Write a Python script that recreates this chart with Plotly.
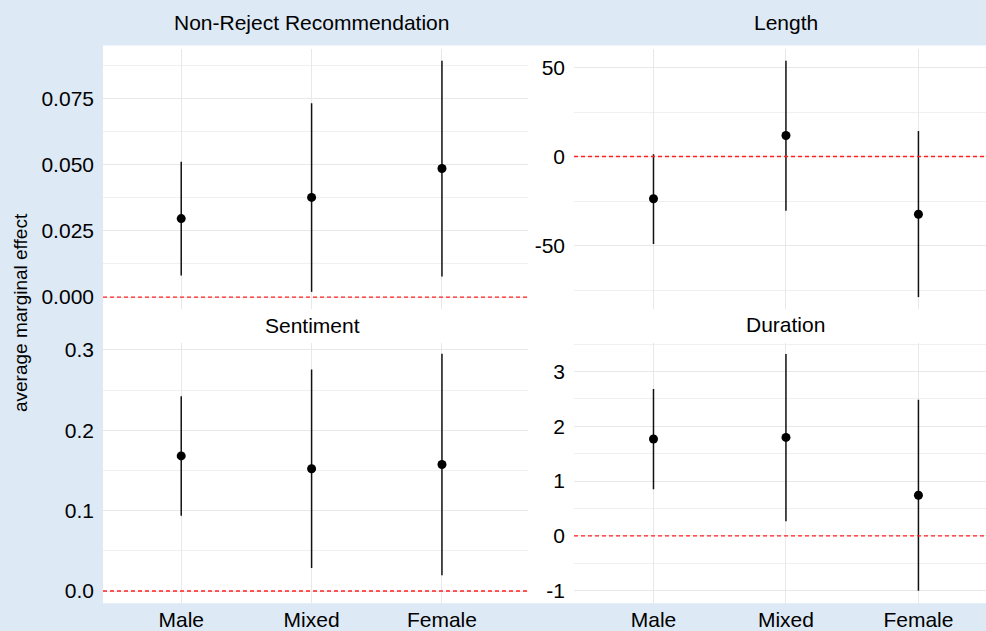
import plotly.graph_objects as go

# ---- data ----
categories = ["Male", "Mixed", "Female"]

nonreject_est = [0.0296, 0.0376, 0.0485]
nonreject_lo = [0.0082, 0.0020, 0.0078]
nonreject_hi = [0.0510, 0.0731, 0.0891]

length_est = [-23.7, 11.8, -32.4]
length_lo = [-49.1, -30.4, -78.9]
length_hi = [1.3, 53.7, 14.4]

sentiment_est = [0.1682, 0.1522, 0.1575]
sentiment_lo = [0.0937, 0.0288, 0.0197]
sentiment_hi = [0.2425, 0.2758, 0.2952]

duration_est = [1.767, 1.796, 0.741]
duration_lo = [0.850, 0.265, -1.000]
duration_hi = [2.682, 3.320, 2.483]

nonreject_ticks = [0.0, 0.025, 0.05, 0.075]
nonreject_ticktext = ["0.000", "0.025", "0.050", "0.075"]
length_ticks = [-50, 0, 50]
length_ticktext = ["-50", "0", "50"]
sentiment_ticks = [0.0, 0.1, 0.2, 0.3]
sentiment_ticktext = ["0.0", "0.1", "0.2", "0.3"]
duration_ticks = [-1, 0, 1, 2, 3]
duration_ticktext = ["-1", "0", "1", "2", "3"]

titles = ["Non-Reject Recommendation", "Length", "Sentiment", "Duration"]

# ---- layout geometry (pixels) ----
W, H = 986, 631
BLUE = "#dde9f5"
FONT = "Liberation Sans, Arial, Helvetica, sans-serif"

def px_x(p):
    return p / W

def px_y(p):
    return 1 - p / H

panels = [
    (nonreject_est, nonreject_lo, nonreject_hi, "x", "y", (103, 528), (45, 308), [0.4, 3.66], [-0.0045, 0.0937], nonreject_ticks, nonreject_ticktext, 0.0125),
    (length_est, length_lo, length_hi, "x2", "y2", (574, 986), (45, 308), [0.4, 3.51], [-85.6, 60.6], length_ticks, length_ticktext, 25),
    (sentiment_est, sentiment_lo, sentiment_hi, "x3", "y3", (103, 528), (342, 605), [0.4, 3.66], [-0.0152, 0.309], sentiment_ticks, sentiment_ticktext, 0.05),
    (duration_est, duration_lo, duration_hi, "x4", "y4", (574, 986), (342, 605), [0.4, 3.51], [-1.23, 3.524], duration_ticks, duration_ticktext, 0.5),
]

fig = go.Figure()
xpos = [1, 2, 3]

layout = dict(
    width=W, height=H,
    margin=dict(l=0, r=0, t=0, b=0),
    paper_bgcolor=BLUE,
    plot_bgcolor="rgba(0,0,0,0)",
    showlegend=False,
    font=dict(family=FONT, color="#000000"),
)

for i, (est, lo, hi, xa, ya, xd, yd, xr, yr, tv, tt, minor) in enumerate(panels):
    fig.add_trace(go.Scatter(
        x=xpos, y=est, mode="markers", xaxis=xa, yaxis=ya,
        marker=dict(color="black", size=9),
        error_y=dict(type="data", symmetric=False,
                     array=[h - e for h, e in zip(hi, est)],
                     arrayminus=[e - l for e, l in zip(est, lo)],
                     width=0, thickness=1.5, color="#111111"),
        hoverinfo="skip",
    ))
    fig.add_trace(go.Scatter(
        x=[xr[0], xr[1]], y=[0, 0], mode="lines", xaxis=xa, yaxis=ya,
        line=dict(color="#ff2020", width=1.4, dash="4px,3px"),
        hoverinfo="skip",
    ))
    xkey = "xaxis" + ("" if i == 0 else str(i + 1))
    ykey = "yaxis" + ("" if i == 0 else str(i + 1))
    bottom = i >= 2
    layout[xkey] = dict(
        domain=[px_x(xd[0]), px_x(xd[1])], range=xr, anchor=ya,
        tickvals=xpos, ticktext=categories,
        showticklabels=bottom, showgrid=True, gridcolor="#e8e8e8", gridwidth=1.2,
        zeroline=False, showline=False, ticks="", ticklabelstandoff=2,
        tickfont=dict(size=21, family=FONT, color="#000"),
    )
    layout[ykey] = dict(
        domain=[px_y(yd[1]), px_y(yd[0])], range=yr, anchor=xa,
        tickvals=tv, ticktext=tt, showgrid=True, gridcolor="#e8e8e8", gridwidth=1.2,
        zeroline=False, showline=False, ticks="", ticklabelstandoff=8,
        tickfont=dict(size=21, family=FONT, color="#000"),
        minor=dict(dtick=minor, tick0=0, showgrid=True, gridcolor="#f0f0f0", gridwidth=0.8),
    )

shapes = [dict(type="rect", xref="paper", yref="paper", layer="below",
               x0=px_x(103), x1=1, y0=px_y(605), y1=px_y(42),
               fillcolor="white", line=dict(width=0))]

annotations = []
title_pos = [(311, 19), (786, 19), (312, 325), (785, 324)]
for t, (cx, cy) in zip(titles, title_pos):
    annotations.append(dict(text=t, xref="paper", yref="paper",
                            x=px_x(cx), y=px_y(cy), xanchor="center", yanchor="middle",
                            showarrow=False, font=dict(size=21, family=FONT, color="#000")))
annotations.append(dict(text="average marginal effect", xref="paper", yref="paper",
                        x=px_x(20), y=px_y(312), xanchor="center", yanchor="middle",
                        textangle=-90, showarrow=False,
                        font=dict(size=19, family=FONT, color="#000")))

layout["shapes"] = shapes
layout["annotations"] = annotations
fig.update_layout(**layout)

fig.write_html("out.html", config={"displayModeBar": False},
               post_script="document.body.style.margin='0';document.body.style.background='#dde9f5';document.body.style.overflow='hidden';")
